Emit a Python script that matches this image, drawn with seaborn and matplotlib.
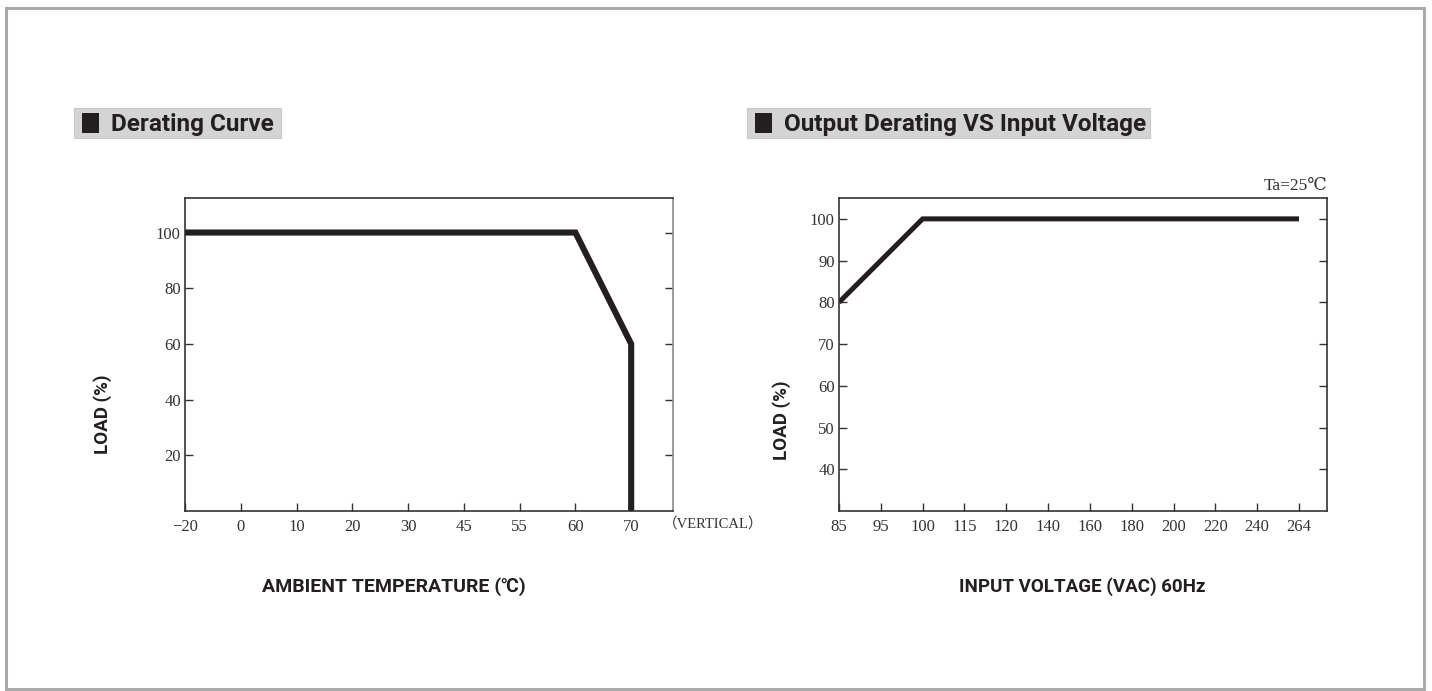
import pandas as pd
import matplotlib
matplotlib.use("Agg")
import matplotlib.pyplot as plt
from matplotlib.patches import Rectangle
import seaborn as sns

# left chart: derating curve
temp_labels = ["−20", "0", "10", "20", "30", "45", "55", "60", "70"]
temp_curve = ["−20", "60", "70", "70"]
temp_load = [100, 100, 60, 0]
temp_yticks = [20, 40, 60, 80, 100]

# right chart: output derating vs input voltage
volt_labels = ["85", "95", "100", "115", "120", "140", "160", "180", "200", "220", "240", "264"]
volt_curve = ["85", "100", "264"]
volt_load = [80, 100, 100]
volt_yticks = [40, 50, 60, 70, 80, 90, 100]

W, H = 1432, 691
LINE = "#231f20"
TICK_FONT = ["Liberation Serif", "DejaVu Serif"]
HEAD_FONT = ["Roboto", "Liberation Sans", "Noto Sans CJK SC", "DejaVu Sans"]


def px(x0, y0, x1, y1):
    # pixel box (top-left origin) -> figure fraction rect
    return [x0 / W, 1 - y1 / H, (x1 - x0) / W, (y1 - y0) / H]


def header(fig, x0, x1, text):
    fig.patches.append(Rectangle((x0 / W, 1 - 138 / H), (x1 - x0) / W, 30 / H,
                                 transform=fig.transFigure, facecolor="#d4d4d4",
                                 edgecolor="#c8c8c8", lw=0.8))
    fig.patches.append(Rectangle(((x0 + 8) / W, 1 - 133 / H), 17 / W, 20 / H,
                                 transform=fig.transFigure, facecolor="#231f20",
                                 edgecolor="none"))
    fig.text((x0 + 37) / W, 1 - 124 / H, text, family=HEAD_FONT, weight="bold",
             fontsize=17.5, color="#231f20", ha="left", va="center")


def style_axes(ax, labels, yticks):
    ax.set_xticks(range(len(labels)))
    ax.set_xticklabels(labels)
    ax.set_yticks(yticks)
    ax.set_yticklabels([str(v) for v in yticks])
    for lab in ax.get_xticklabels() + ax.get_yticklabels():
        lab.set_family(TICK_FONT)
        lab.set_fontsize(12)
        lab.set_color("#333333")
    ax.tick_params(axis="x", direction="in", length=6, width=1, color="#333333",
                   pad=6, bottom=True, top=False)
    ax.tick_params(axis="y", direction="in", length=6, width=1, color="#333333",
                   pad=3, left=True, right=True)
    for s in ax.spines.values():
        s.set_linewidth(1.2)
        s.set_color("#333333")
    ax.grid(False)
    ax.set_xlabel("")
    ax.set_ylabel("")


sns.set_style("white")
plt.rcParams["font.family"] = HEAD_FONT

fig = plt.figure(figsize=(W / 100, H / 100), dpi=100)
fig.patches.append(Rectangle((6 / W, 1 - 689 / H), 1418 / W, 681 / H,
                             transform=fig.transFigure, facecolor="none",
                             edgecolor="#aaaaaa", lw=2.2))

# ---- derating curve
ax1 = fig.add_axes(px(185, 198, 673, 511))
df1 = pd.DataFrame({"pos": [temp_labels.index(t) for t in temp_curve], "load": temp_load})
sns.lineplot(data=df1, x="pos", y="load", sort=False, estimator=None, errorbar=None,
             ax=ax1, color=LINE, lw=4.4, solid_joinstyle="miter", solid_capstyle="butt")
ax1.set_xlim(0, 8.75)
ax1.set_ylim(0, 112.4)
style_axes(ax1, temp_labels, temp_yticks)
for t in ax1.yaxis.get_major_ticks():
    t.tick2line.set_color("#2b3a9a")
ax1.spines["right"].set_color("#8a8a8a")
ax1.text(0.98, -0.042, "（VERTICAL）", transform=ax1.transAxes,
         family=TICK_FONT + ["Noto Sans CJK SC"], fontsize=10.5, color="#333333",
         ha="left", va="center")
ax1.set_ylabel("LOAD (%)", family=HEAD_FONT, weight="bold", fontsize=13.5, color="#231f20")
ax1.yaxis.set_label_coords(-0.15, 0.31)
ax1.set_xlabel("AMBIENT TEMPERATURE (℃)", family=HEAD_FONT, weight="bold", fontsize=14,
               color="#231f20")
ax1.xaxis.set_label_coords(0.428, -0.21)
header(fig, 74, 281, "Derating Curve")

# ---- output derating vs input voltage
ax2 = fig.add_axes(px(839, 198, 1327, 511))
df2 = pd.DataFrame({"pos": [volt_labels.index(v) for v in volt_curve], "load": volt_load})
sns.lineplot(data=df2, x="pos", y="load", sort=False, estimator=None, errorbar=None,
             ax=ax2, color=LINE, lw=3.6, solid_joinstyle="miter", solid_capstyle="butt")
ax2.set_xlim(0, 11.67)
ax2.set_ylim(30, 105)
style_axes(ax2, volt_labels, volt_yticks)
ax2.text(1.0, 1.012, "Ta=25℃", transform=ax2.transAxes, family=TICK_FONT + ["Noto Sans CJK SC"],
         fontsize=12.5, color="#333333", ha="right", va="bottom")
ax2.set_ylabel("LOAD (%)", family=HEAD_FONT, weight="bold", fontsize=13.5, color="#231f20")
ax2.yaxis.set_label_coords(-0.098, 0.29)
ax2.set_xlabel("INPUT VOLTAGE (VAC) 60Hz", family=HEAD_FONT, weight="bold", fontsize=13.5,
               color="#231f20")
ax2.xaxis.set_label_coords(0.498, -0.21)
header(fig, 747, 1150, "Output Derating VS Input Voltage")

fig.savefig("out.png", dpi=100, facecolor="white")
